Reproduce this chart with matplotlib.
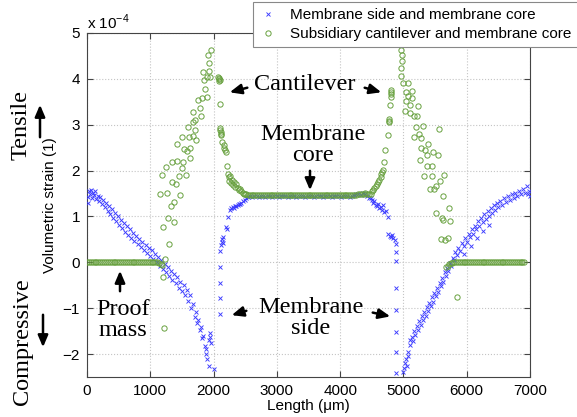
import matplotlib
matplotlib.use("Agg")
import matplotlib.pyplot as plt
import numpy as np

plt.rcParams["font.family"] = ["Liberation Sans", "DejaVu Sans"]
plt.rcParams["mathtext.fontset"] = "custom"
plt.rcParams["mathtext.rm"] = "Liberation Sans"

W, H = 577, 417

# ── Daten (Einheit 1e-4) ────────────────────────────────────────────────────
# Membranseite links (blau)
side_left = [
    (10, 1.30), (20, 1.42), (30, 1.55), (45, 1.48), (60, 1.58), (75, 1.40), (90, 1.52),
    (110, 1.47), (130, 1.56), (150, 1.38), (170, 1.45), (190, 1.33), (210, 1.42),
    (235, 1.28), (260, 1.36), (280, 1.20), (300, 1.30), (325, 1.12), (345, 1.22),
    (370, 1.05), (390, 1.16), (415, 0.97), (440, 1.08), (460, 0.90), (485, 1.00),
    (505, 0.82), (530, 0.93), (555, 0.74), (580, 0.86), (600, 0.67), (625, 0.79),
    (650, 0.60), (675, 0.72), (700, 0.53), (725, 0.64), (750, 0.46), (775, 0.58),
    (800, 0.40), (825, 0.51), (850, 0.33), (875, 0.45), (900, 0.26), (925, 0.38),
    (950, 0.20), (975, 0.31), (1000, 0.14), (1025, 0.26), (1050, 0.07), (1075, 0.19),
    (1100, 0.00), (1125, 0.12), (1150, -0.08), (1175, 0.04), (1200, -0.15), (1225, -0.04),
    (1250, -0.22), (1275, -0.10), (1300, -0.30), (1325, -0.18), (1350, -0.38),
    (1375, -0.26), (1400, -0.46), (1425, -0.33), (1450, -0.55), (1475, -0.42),
    (1500, -0.63), (1525, -0.50), (1550, -0.72), (1575, -0.60), (1600, -0.85),
    (1625, -0.72), (1650, -1.00), (1675, -0.90), (1700, -1.20), (1720, -1.08),
    (1740, -1.32), (1760, -1.25), (1780, -1.48), (1800, -1.42), (1820, -1.65),
    (1840, -1.60), (1860, -1.82), (1880, -1.90), (1900, -2.10), (1920, -1.70),
    (1940, -1.55), (1950, -1.62), (1960, -1.75), (1885, -2.00), (1920, -2.25), (2000, -2.33),
]
side_left_jump = [
    (2100, 0.24), (2100, -0.10), (2100, -0.44), (2100, -0.77), (2105, -1.12),
    (2120, 0.38), (2130, 0.45), (2140, 0.50), (2150, 0.55), (2145, 0.42),
    (2200, 0.78), (2215, 0.72), (2230, 0.98), (2260, 1.15), (2280, 1.18), (2300, 1.20),
    (2320, 1.19), (2340, 1.23), (2360, 1.22), (2380, 1.25), (2400, 1.28), (2420, 1.27),
    (2440, 1.30), (2460, 1.33), (2490, 1.36), (2520, 1.40),
]
core_blue_x = [2540, 2575, 2610, 2645, 2680, 2715, 2750, 2785, 2820, 2855, 2890, 2925,
               2960, 2995, 3030, 3065, 3100, 3135, 3170, 3205, 3240, 3275, 3310, 3345,
               3380, 3415, 3450, 3485, 3520, 3555, 3590, 3625, 3660, 3695, 3730, 3765,
               3800, 3835, 3870, 3905, 3940, 3975, 4010, 4045, 4080, 4115, 4150, 4185,
               4220, 4255, 4290, 4325, 4360, 4395, 4430, 4460]
core_blue_y = [1.42, 1.44, 1.43, 1.45, 1.44, 1.43, 1.45, 1.44, 1.43, 1.44, 1.45, 1.43,
               1.44, 1.45, 1.43, 1.44, 1.44, 1.45, 1.43, 1.44, 1.45, 1.44, 1.43, 1.44,
               1.45, 1.44, 1.43, 1.44, 1.45, 1.44, 1.43, 1.44, 1.45, 1.44, 1.43, 1.44,
               1.45, 1.44, 1.43, 1.44, 1.45, 1.44, 1.43, 1.44, 1.45, 1.44, 1.43, 1.44,
               1.46, 1.48, 1.50, 1.47, 1.52, 1.49, 1.44, 1.41]
side_right_jump = [
    (4480, 1.40), (4500, 1.36), (4520, 1.30), (4540, 1.33), (4560, 1.25), (4580, 1.22),
    (4600, 1.28), (4620, 1.18), (4640, 1.20), (4660, 1.15), (4680, 1.25), (4700, 1.10),
    (4720, 1.12), (4750, 0.98), (4760, 0.62), (4780, 0.58), (4800, 0.55), (4820, 0.60),
    (4840, 0.52), (4860, 0.48), (4880, 0.39), (4880, 0.22), (4885, 0.02), (4890, -0.57),
    (4890, -1.04), (4885, -1.52), (4880, -1.96), (4880, -2.41),
]
side_right = [
    (4990, -2.40), (5010, -2.30), (5020, -2.20), (5040, -2.10), (5050, -2.25),
    (5070, -1.95), (5080, -2.05), (5100, -1.80), (5110, -1.70), (5130, -1.62),
    (5150, -1.72), (5170, -1.50), (5190, -1.58), (5210, -1.38), (5230, -1.48),
    (5250, -1.28), (5270, -1.36), (5290, -1.18), (5310, -1.26), (5330, -1.08),
    (5350, -1.18), (5370, -0.98), (5390, -1.06), (5410, -0.88), (5430, -0.96),
    (5450, -0.76), (5470, -0.86), (5490, -0.66), (5510, -0.74), (5530, -0.55),
    (5550, -0.64), (5570, -0.44), (5590, -0.52), (5610, -0.34), (5630, -0.42),
    (5650, -0.22), (5670, -0.30), (5690, -0.12), (5710, -0.18), (5730, -0.02),
    (5750, -0.08), (5780, 0.10), (5800, 0.05), (5820, 0.22), (5850, 0.15), (5870, 0.32),
    (5900, 0.25), (5920, 0.42), (5950, 0.35), (5970, 0.52), (6000, 0.45), (6030, 0.62),
    (6050, 0.55), (6080, 0.72), (6100, 0.62), (6130, 0.80), (6150, 0.72), (6180, 0.90),
    (6200, 0.80), (6230, 0.96), (6250, 0.88), (6280, 1.05), (6300, 0.95), (6330, 1.12),
    (6350, 1.02), (6380, 1.18), (6400, 1.08), (6430, 1.25), (6450, 1.15), (6480, 1.30),
    (6500, 1.20), (6530, 1.34), (6560, 1.26), (6590, 1.40), (6620, 1.32), (6650, 1.45),
    (6680, 1.36), (6710, 1.48), (6740, 1.40), (6770, 1.52), (6800, 1.44), (6830, 1.55),
    (6860, 1.48), (6890, 1.60), (6920, 1.52), (6950, 1.66), (6970, 1.50), (6990, 1.56),
    (7000, 1.45), (5960, 0.18), (6060, 0.35), (6160, 0.52), (6260, 0.68), (6360, 0.82),
]

# Hilfsausleger + Membrankern (grün)
flat_left_x = [0, 30, 60, 90, 120, 150, 180, 210, 240, 270, 300, 330, 360, 390, 420,
               450, 480, 510, 540, 570, 600, 630, 660, 690, 720, 750, 780, 810, 840,
               870, 900, 930, 960, 990, 1020, 1050, 1080, 1110, 1140, 1170, 1190]
flat_left_y = [0.0, 0.0, 0.0, 0.0, 0.0, 0.0, 0.0, 0.0, 0.0, 0.0, 0.0, 0.0, 0.0, 0.0, 0.0,
               0.0, 0.0, 0.0, 0.0, 0.0, 0.0, 0.0, 0.0, 0.0, 0.0, 0.0, 0.0, 0.0, 0.0,
               0.0, 0.0, 0.0, 0.0, 0.0, 0.0, 0.0, 0.0, 0.0, -0.01, -0.03, -0.06]
cant_left = [
    (1220, -1.43), (1205, -0.33), (1230, 0.07), (1300, 0.39), (1195, 0.78), (1285, 0.96),
    (1380, 0.88), (1325, 1.22), (1375, 1.32), (1160, 1.49), (1270, 1.51), (1470, 1.46),
    (1350, 1.75), (1400, 1.70), (1180, 1.90), (1455, 1.88), (1560, 1.90), (1255, 2.08),
    (1495, 2.06), (1350, 2.19), (1430, 2.20), (1520, 2.18), (1635, 2.28), (1535, 2.48),
    (1625, 2.49), (1575, 2.42), (1415, 2.59), (1505, 2.73), (1610, 2.73), (1670, 2.76),
    (1730, 2.67), (1600, 2.95), (1705, 2.88), (1680, 3.07), (1705, 3.10), (1795, 3.20),
    (1680, 3.28), (1785, 3.36), (1760, 3.54), (1825, 3.58), (1890, 3.60), (1865, 3.78),
    (1855, 3.97), (1890, 4.05), (1950, 4.03), (1840, 4.15), (1930, 4.18), (1925, 4.35),
    (1905, 4.52), (1960, 4.62),
]
cant_left_tip = [
    (2075, 4.05), (2080, 4.00), (2085, 3.95), (2090, 4.02), (2095, 3.98), (2100, 3.46),
    (2100, 2.93), (2105, 2.88), (2110, 2.84), (2115, 2.80), (2120, 2.78), (2140, 2.62),
    (2160, 2.55), (2170, 2.50), (2180, 2.44), (2190, 2.40), (2205, 2.09), (2230, 1.92),
    (2240, 1.85), (2250, 1.78), (2260, 1.88), (2270, 1.72), (2290, 1.80), (2300, 1.68),
    (2320, 1.75), (2340, 1.65), (2360, 1.70), (2380, 1.62), (2400, 1.58), (2420, 1.60),
    (2440, 1.55), (2460, 1.52), (2480, 1.50), (2500, 1.49), (2520, 1.48),
]
core_green_x = [2540, 2570, 2600, 2630, 2660, 2690, 2720, 2750, 2780, 2810, 2840, 2870,
                2900, 2930, 2960, 2990, 3020, 3050, 3080, 3110, 3140, 3170, 3200, 3230,
                3260, 3290, 3320, 3350, 3380, 3410, 3440, 3470, 3500, 3530, 3560, 3590,
                3620, 3650, 3680, 3710, 3740, 3770, 3800, 3830, 3860, 3890, 3920, 3950,
                3980, 4010, 4040, 4070, 4100, 4130, 4160, 4190, 4220, 4250, 4280, 4310,
                4340, 4370, 4400, 4430]
core_green_y = [1.47, 1.46, 1.46, 1.46, 1.46, 1.46, 1.46, 1.46, 1.46, 1.46, 1.46, 1.46,
                1.46, 1.46, 1.46, 1.46, 1.46, 1.46, 1.46, 1.46, 1.46, 1.46, 1.46, 1.46,
                1.46, 1.46, 1.46, 1.46, 1.46, 1.46, 1.46, 1.46, 1.46, 1.46, 1.46, 1.46,
                1.46, 1.46, 1.46, 1.46, 1.46, 1.46, 1.46, 1.46, 1.46, 1.46, 1.46, 1.46,
                1.46, 1.46, 1.46, 1.46, 1.46, 1.46, 1.46, 1.46, 1.47, 1.47, 1.48, 1.48,
                1.49, 1.50, 1.52, 1.50]
cant_right_tip = [
    (4460, 1.48), (4480, 1.50), (4500, 1.55), (4520, 1.58), (4540, 1.62), (4560, 1.66),
    (4580, 1.70), (4600, 1.75), (4620, 1.80), (4640, 1.86), (4650, 1.92), (4660, 1.98),
    (4670, 2.02), (4690, 2.18), (4710, 2.46), (4760, 2.78), (4770, 3.05), (4772, 3.09),
    (4775, 3.12), (4790, 3.43), (4800, 3.60), (4805, 3.66), (4808, 3.72), (4810, 3.76),
]
cant_right = [
    (4955, 4.62), (4980, 4.52), (4980, 4.38), (4960, 4.23), (4960, 4.07), (5000, 3.90),
    (5065, 3.92), (5040, 3.72), (5140, 3.74), (5065, 3.62), (5130, 3.58), (5035, 3.51),
    (5110, 3.42), (5235, 3.40), (5020, 3.30), (5105, 3.25), (5165, 3.20), (5210, 3.18),
    (5195, 2.94), (5315, 2.98), (5565, 2.91), (5170, 2.73), (5245, 2.80), (5285, 2.71),
    (5390, 2.58), (5270, 2.49), (5340, 2.44), (5375, 2.33), (5550, 2.33), (5260, 2.24),
    (5470, 2.41), (5365, 2.09), (5445, 2.09), (5325, 1.88), (5445, 1.88), (5640, 1.90),
    (5575, 1.77), (5515, 1.67), (5420, 1.60), (5480, 1.60), (5630, 1.44), (5720, 1.19),
    (5515, 1.08), (5605, 0.96), (5735, 0.90), (5620, 0.93), (5590, 0.50), (5655, 0.49),
    (5710, 0.54), (5840, -0.75),
]
flat_right_x = [5680, 5700, 5720, 5745, 5770, 5800, 5830, 5860, 5890, 5920, 5950, 5980,
                6010, 6040, 6070, 6100, 6130, 6160, 6190, 6220, 6250, 6280, 6310, 6340,
                6370, 6400, 6430, 6460, 6490, 6520, 6550, 6580, 6610, 6640, 6670, 6700,
                6730, 6760, 6790, 6820, 6850, 6880, 6900]
flat_right_y = [-0.10, -0.07, -0.04, -0.02, -0.01, 0.0, 0.0, 0.0, 0.0, 0.0, 0.0, 0.0,
                0.0, 0.0, 0.0, 0.0, 0.0, 0.0, 0.0, 0.0, 0.0, 0.0, 0.0, 0.0,
                0.0, 0.0, 0.0, 0.0, 0.0, 0.0, 0.0, 0.0, 0.0, 0.0, 0.0, 0.0,
                0.0, 0.0, 0.0, 0.0, 0.0, 0.0, 0.0]

XTICKS = [0, 1000, 2000, 3000, 4000, 5000, 6000, 7000]
YTICKS = [-2, -1, 0, 1, 2, 3, 4, 5]


def fp(px, py):
    """Pixel (von oben links) -> figure fraction."""
    return (px / W, 1 - py / H)


def arrow(fig, tail, head):
    fig.add_artist(matplotlib.patches.FancyArrowPatch(
        fp(*tail), fp(*head), transform=fig.transFigure,
        arrowstyle="-|>,head_length=0.7,head_width=0.3", mutation_scale=10,
        lw=1.8, color="black"))


def build():
    blue = np.array(side_left + side_left_jump + side_right_jump + side_right)
    bx = np.concatenate([blue[:, 0], core_blue_x])
    by = np.concatenate([blue[:, 1], core_blue_y])
    grn = np.array(cant_left + cant_left_tip + cant_right_tip + cant_right)
    gx = np.concatenate([flat_left_x, grn[:, 0], core_green_x, flat_right_x])
    gy = np.concatenate([flat_left_y, grn[:, 1], core_green_y, flat_right_y])

    fig = plt.figure(figsize=(W / 100, H / 100), dpi=100)
    ax = fig.add_axes([87 / W, 1 - 377 / H, (530 - 87) / W, (377 - 33) / H])

    ax.plot(bx, by, ls="none", marker="x", ms=3.0, mew=0.65, color="#3a3aff",
            label="Membrane side and membrane core", zorder=3)
    ax.plot(gx, gy, ls="none", marker="o", ms=3.8, mew=0.7, mfc="none", mec="#67a03e",
            label="Subsidiary cantilever and membrane core", zorder=4)

    ax.set_xlim(0, 7000)
    ax.set_ylim(-2.5, 5)
    ax.set_xticks(XTICKS)
    ax.set_yticks(YTICKS)
    ax.tick_params(direction="in", top=True, right=True, labelsize=11, length=4,
                   color="#444444", pad=5)
    for s in ax.spines.values():
        s.set_color("#444444")
        s.set_linewidth(0.8)
    ax.grid(True, ls=":", color="#c4c4c4", lw=0.8)
    ax.set_axisbelow(True)
    ax.set_xlabel("Length (μm)", fontsize=11, labelpad=1)
    ax.set_ylabel("Volumetric strain (1)", fontsize=11, labelpad=4)

    fig.text(*fp(87, 22), "x 10$^{-4}$", fontsize=11, ha="left", va="center")

    # Legende ragt wie im Original über den rechten Rand hinaus
    leg = ax.legend(loc="lower left", bbox_to_anchor=fp(253, 47), bbox_transform=fig.transFigure,
                    fontsize=11, frameon=True, fancybox=False, framealpha=1,
                    edgecolor="#888888", borderpad=0.4, handlelength=1.2,
                    handletextpad=0.85, labelspacing=0.3, borderaxespad=0)
    leg.get_frame().set_linewidth(0.8)

    serif = dict(family=["Liberation Serif", "DejaVu Serif"], fontsize=17.5)
    fig.text(*fp(21, 125), "Tensile", rotation=90, ha="center", va="center", **serif)
    arrow(fig, (40, 140), (40, 102))
    fig.text(*fp(23, 342), "Compressive", rotation=90, ha="center", va="center", **serif)
    arrow(fig, (43, 312), (43, 350))

    fig.text(*fp(305, 84), "Cantilever", ha="center", va="center", **serif)
    arrow(fig, (250, 87), (227, 93))
    arrow(fig, (362, 87), (384, 93))

    fig.text(*fp(313, 145), "Membrane\ncore", ha="center", va="center",
             linespacing=1.05, **serif)
    arrow(fig, (310, 168), (310, 193))

    fig.text(*fp(123, 320), "Proof\nmass", ha="center", va="center",
             linespacing=1.05, **serif)
    arrow(fig, (120, 294), (120, 268))

    fig.text(*fp(311, 318), "Membrane\nside", ha="center", va="center",
             linespacing=1.05, **serif)
    arrow(fig, (249, 310), (229, 316))
    arrow(fig, (370, 312), (393, 317))

    fig.savefig("out.png", dpi=100)
    plt.close(fig)


if __name__ == "__main__":
    build()
